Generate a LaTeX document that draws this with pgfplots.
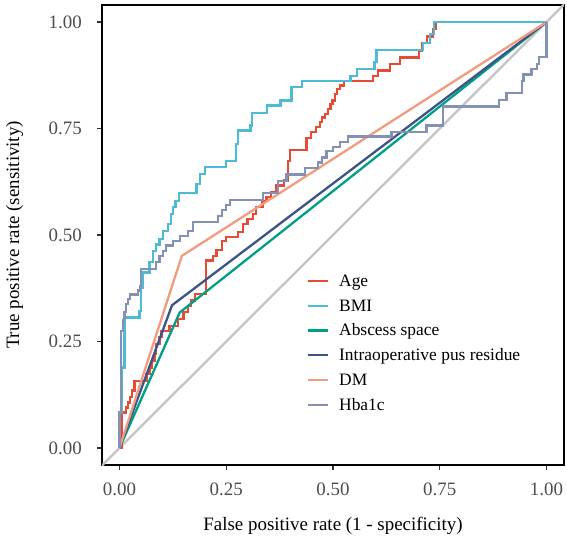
\documentclass[border=0pt]{standalone}
\usepackage{fontspec}
\setmainfont{Liberation Serif}
\usepackage{pgfplots}
\pgfplotsset{compat=1.18}

% ggsci NPG palette
\definecolor{npgred}{HTML}{E64B35}
\definecolor{npgcyan}{HTML}{4DBBD5}
\definecolor{npggreen}{HTML}{00A087}
\definecolor{npgnavy}{HTML}{3C5488}
\definecolor{npgsalmon}{HTML}{F39B7F}
\definecolor{npgslate}{HTML}{8491B4}
\definecolor{ticktext}{HTML}{4D4D4D}
\definecolor{tickline}{HTML}{333333}
\definecolor{refline}{HTML}{C4C4C4}

\begin{document}
\begin{tikzpicture}
\begin{axis}[
  scale only axis, width=462bp, height=460bp,
  xmin=-0.041, xmax=1.041, ymin=-0.04, ymax=1.04,
  xtick={0,0.25,0.5,0.75,1}, ytick={0,0.25,0.5,0.75,1},
  xticklabels={0.00,0.25,0.50,0.75,1.00},
  yticklabels={0.00,0.25,0.50,0.75,1.00},
  xtick pos=bottom, ytick pos=left,
  tick align=outside, major tick length=5bp,
  tick style={draw=tickline, line width=1.1bp},
  axis line style={line width=2.2bp, black},
  ticklabel style={font=\fontsize{19}{22}\selectfont, text=ticktext, inner sep=0pt},
  xticklabel style={anchor=north, yshift=-13bp},
  yticklabel style={anchor=east, xshift=-15bp},
  xlabel={False positive rate (1 - specificity)},
  ylabel={True positive rate (sensitivity)},
  every axis x label/.style={at={(axis description cs:0.5,-0.1315)}, anchor=center,
    font=\fontsize{19}{22}\selectfont},
  every axis y label/.style={at={(axis description cs:-0.1894,0.5)}, anchor=center, rotate=90,
    font=\fontsize{19}{22}\selectfont},
  legend style={draw=none, fill=none, at={(axis description cs:0.443,0.417)}, anchor=north west,
    inner sep=0pt, row sep=7.8bp, column sep=10bp, font=\fontsize{17.5}{20}\selectfont,
    nodes={inner sep=0pt, text height=13bp, text depth=4bp, anchor=base west}},
  legend image code/.code={\draw[#1] (0bp,5.5bp) -- (20bp,5.5bp);},
  every axis plot/.append style={line width=2.3bp},
]
% chance line
\addplot[refline, forget plot] coordinates {(-0.1,-0.1) (1.1,1.1)};

% Age
\addplot[npgred] coordinates {
(0,0) (0.005,0) (0.005,0.083) (0.015,0.083) (0.015,0.095) (0.02,0.095) (0.02,0.107)
(0.025,0.107) (0.025,0.12) (0.03,0.12) (0.03,0.135) (0.035,0.135) (0.035,0.157)
(0.063,0.157) (0.063,0.173) (0.07,0.173) (0.07,0.189) (0.076,0.189) (0.076,0.205)
(0.082,0.205) (0.082,0.22) (0.086,0.22) (0.086,0.244) (0.094,0.244) (0.094,0.26)
(0.098,0.26) (0.098,0.275) (0.117,0.275) (0.117,0.287) (0.137,0.287) (0.137,0.303)
(0.15,0.303) (0.15,0.319) (0.16,0.319) (0.16,0.333) (0.168,0.333) (0.168,0.346)
(0.176,0.346) (0.176,0.361) (0.203,0.361) (0.203,0.44) (0.219,0.44) (0.219,0.451)
(0.227,0.451) (0.227,0.465) (0.24,0.465) (0.24,0.486) (0.25,0.486) (0.25,0.495)
(0.277,0.495) (0.277,0.507) (0.29,0.507) (0.29,0.526) (0.3,0.526) (0.3,0.538)
(0.313,0.538) (0.313,0.549) (0.32,0.549) (0.32,0.565) (0.335,0.565) (0.335,0.58)
(0.344,0.58) (0.344,0.59) (0.355,0.59) (0.355,0.6) (0.368,0.6) (0.368,0.616)
(0.385,0.616) (0.385,0.628) (0.395,0.628) (0.395,0.674) (0.399,0.674) (0.399,0.7)
(0.438,0.7) (0.438,0.728) (0.449,0.728) (0.449,0.741) (0.461,0.741) (0.461,0.753)
(0.47,0.753) (0.47,0.765) (0.475,0.765) (0.475,0.776) (0.481,0.776) (0.481,0.784)
(0.488,0.784) (0.488,0.796) (0.494,0.796) (0.494,0.808) (0.499,0.808) (0.499,0.816)
(0.504,0.816) (0.504,0.831) (0.51,0.831) (0.51,0.843) (0.516,0.843) (0.516,0.851)
(0.525,0.851) (0.525,0.861) (0.594,0.861) (0.594,0.874) (0.606,0.874) (0.606,0.886)
(0.633,0.886) (0.633,0.902) (0.657,0.902) (0.657,0.917) (0.702,0.917) (0.702,0.933)
(0.708,0.933) (0.708,0.95) (0.72,0.95) (0.72,0.966) (0.735,0.966) (0.735,0.983)
(0.742,0.983) (0.742,1) (1,1)
};
\addlegendentry{Age}

% BMI
\addplot[npgcyan] coordinates {
(0,0) (0,0.083) (0.006,0.083) (0.006,0.189) (0.012,0.189) (0.012,0.306) (0.047,0.306)
(0.047,0.322) (0.051,0.322) (0.051,0.377) (0.055,0.377) (0.055,0.412) (0.07,0.412)
(0.07,0.436) (0.078,0.436) (0.078,0.463) (0.086,0.463) (0.086,0.478) (0.094,0.478)
(0.094,0.49) (0.102,0.49) (0.102,0.51) (0.113,0.51) (0.113,0.525) (0.121,0.525)
(0.121,0.549) (0.126,0.549) (0.126,0.565) (0.131,0.565) (0.131,0.58) (0.14,0.58)
(0.14,0.598) (0.18,0.598) (0.18,0.62) (0.188,0.62) (0.188,0.643) (0.2,0.643)
(0.2,0.659) (0.25,0.659) (0.25,0.673) (0.273,0.673) (0.273,0.714) (0.278,0.714)
(0.278,0.745) (0.307,0.745) (0.307,0.757) (0.311,0.757) (0.311,0.786) (0.346,0.786)
(0.346,0.804) (0.377,0.804) (0.377,0.816) (0.403,0.816) (0.403,0.847) (0.427,0.847)
(0.427,0.861) (0.541,0.861) (0.541,0.874) (0.556,0.874) (0.556,0.889) (0.597,0.889)
(0.597,0.906) (0.602,0.906) (0.602,0.935) (0.711,0.935) (0.711,0.95) (0.727,0.95)
(0.727,0.972) (0.737,0.972) (0.737,1) (1,1)
};
\addlegendentry{BMI}

% Abscess space
\addplot[npggreen] coordinates {(0,0) (0.141,0.318) (1,1)};
\addlegendentry{Abscess space}

% Intraoperative pus residue
\addplot[npgnavy] coordinates {(0,0) (0.123,0.335) (1,1)};
\addlegendentry{Intraoperative pus residue}

% DM
\addplot[npgsalmon] coordinates {(0,0) (0.146,0.451) (1,1)};
\addlegendentry{DM}

% Hba1c
\addplot[npgslate] coordinates {
(0,0) (0,0.083) (0.004,0.083) (0.004,0.275) (0.008,0.275) (0.008,0.3) (0.012,0.3)
(0.012,0.32) (0.016,0.32) (0.016,0.338) (0.02,0.338) (0.02,0.349) (0.024,0.349)
(0.024,0.36) (0.043,0.36) (0.043,0.37) (0.048,0.37) (0.048,0.38) (0.051,0.38)
(0.051,0.42) (0.086,0.42) (0.086,0.436) (0.094,0.436) (0.094,0.45) (0.102,0.45)
(0.102,0.462) (0.109,0.462) (0.109,0.475) (0.125,0.475) (0.125,0.486) (0.141,0.486)
(0.141,0.498) (0.16,0.498) (0.16,0.51) (0.172,0.51) (0.172,0.53) (0.23,0.53)
(0.23,0.545) (0.24,0.545) (0.24,0.558) (0.25,0.558) (0.25,0.57) (0.258,0.57)
(0.258,0.582) (0.336,0.582) (0.336,0.598) (0.371,0.598) (0.371,0.627) (0.391,0.627)
(0.391,0.642) (0.434,0.642) (0.434,0.657) (0.465,0.657) (0.465,0.67) (0.475,0.67)
(0.475,0.682) (0.485,0.682) (0.485,0.698) (0.5,0.698) (0.5,0.706) (0.516,0.706)
(0.516,0.718) (0.535,0.718) (0.535,0.731) (0.637,0.731) (0.637,0.741) (0.719,0.741)
(0.719,0.757) (0.757,0.757) (0.757,0.802) (0.889,0.802) (0.889,0.817) (0.906,0.817)
(0.906,0.833) (0.942,0.833) (0.942,0.862) (0.946,0.862) (0.946,0.877) (0.965,0.877)
(0.965,0.89) (0.977,0.89) (0.977,0.902) (0.983,0.902) (0.983,0.918) (1,0.918) (1,1)
};
\addlegendentry{Hba1c}
\end{axis}
\pgfresetboundingbox
\path[use as bounding box] ([shift={(-102bp,-71bp)}]current axis.south west)
  rectangle ([shift={(3bp,5bp)}]current axis.north east);
\end{tikzpicture}
\end{document}
